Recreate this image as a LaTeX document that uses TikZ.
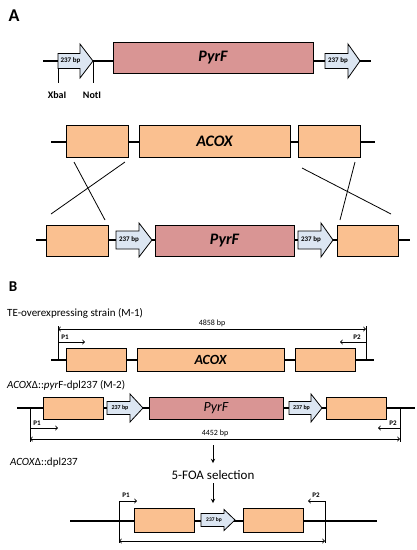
\documentclass[tikz,border=0pt]{standalone}
\usepackage{fontspec}
\setmainfont{Carlito}
\usetikzlibrary{positioning}

\definecolor{pyrred}{HTML}{D99594}
\definecolor{acoxorange}{HTML}{FAC090}
\definecolor{dplblue}{HTML}{DCE6F2}

\tikzset{
  backbone/.style={line width=1.5pt},
  genebox/.style={draw, line width=0.9pt, inner sep=0pt, outer sep=0pt},
  acoxbox/.style={genebox, fill=acoxorange},
  pyrbox/.style={genebox, fill=pyrred},
  dplshape/.style={draw, line width=0.8pt, fill=dplblue},
  dpltext/.style={font=\bfseries\fontsize{#1}{#1}\selectfont, inner sep=0pt},
  primer/.style={line width=0.9pt, -to},
  dimline/.style={line width=0.9pt, to-to},
  lbl/.style={font=\bfseries\fontsize{#1}{#1}\selectfont, inner sep=0pt},
}

% name, left x, y, body length, total length, body half, head half, font size
\newcommand{\dplarrow}[8]{%
  \draw[dplshape] (#2,#3-#6) -- (#2+#4,#3-#6) -- (#2+#4,#3-#7) -- (#2+#5,#3)
    -- (#2+#4,#3+#7) -- (#2+#4,#3+#6) -- (#2,#3+#6) -- cycle;
  \node[dpltext=#8] (#1) at (#2+#4/2+1.5,#3) {237 bp};}

\begin{document}
\begin{tikzpicture}[x=1pt, y=-1pt]
  \useasboundingbox (0,0) rectangle (416,550);

  % ---------- A ----------
  \node[lbl=18] (panelA) at (14,16) {A};

  % cassette
  \coordinate (c1l) at (43,61);
  \coordinate (c1r) at (371,61);
  \draw[backbone] (c1l) -- (c1r);
  \coordinate (xba) at (58,61);
  \coordinate (not) at (93,61);
  \draw[line width=0.9pt] (xba) -- ++(0,22) (not) -- ++(0,22);
  \dplarrow{dplA}{58}{61}{22}{35}{7.5}{17}{7}
  \dplarrow{dplB}{325}{61}{23}{35}{7.5}{17}{7}
  \node[pyrbox, minimum width=200pt, minimum height=31pt] (pyrA) at (213,58)
    {\fontsize{16}{16}\selectfont\bfseries\itshape PyrF};
  \node[lbl=10] (xbal) at (57,95) {XbaI};
  \node[lbl=10] (notl) at (92,95) {NotI};

  % ACOX locus
  \coordinate (c2l) at (51,142);
  \coordinate (c2r) at (375,142);
  \draw[backbone] (c2l) -- (c2r);
  \node[acoxbox, minimum width=62pt, minimum height=32pt] (up) at (97,141) {};
  \node[acoxbox, minimum width=151pt, minimum height=32pt] (acox) at (214.5,141)
    {\fontsize{16}{16}\selectfont\bfseries\itshape ACOX};
  \node[acoxbox, minimum width=62pt, minimum height=32pt] (dn) at (329,141) {};

  % crossover
  \draw[line width=0.8pt] (74,162) -- (105,220);
  \draw[line width=0.8pt] (125,162) -- (51,214);
  \draw[line width=0.8pt] (302,168) -- (391,214);
  \draw[line width=0.8pt] (355,162) -- (340,220);

  % integrated locus
  \coordinate (c3l) at (36,240);
  \coordinate (c3r) at (410,240);
  \draw[backbone] (c3l) -- (c3r);
  \node[acoxbox, minimum width=62pt, minimum height=31pt] (upI) at (77,240.5) {};
  \dplarrow{dplC}{116}{240}{23}{36}{9}{17}{7}
  \node[pyrbox, minimum width=139pt, minimum height=31pt] (pyrI) at (224.5,240.5)
    {\fontsize{16}{16}\selectfont\bfseries\itshape PyrF};
  \dplarrow{dplD}{298}{240}{23}{35}{9}{17}{7}
  \node[acoxbox, minimum width=61pt, minimum height=31pt] (dnI) at (367.5,240.5) {};

  % ---------- B ----------
  \node[lbl=15] (panelB) at (13,287) {B};

  % M-1
  \node[anchor=west, inner sep=0pt, font=\fontsize{11}{11}\selectfont] (m1) at (7,313)
    {TE-overexpressing strain (M-1)};
  \coordinate (m1l) at (51,360);
  \coordinate (m1r) at (374,360);
  \draw[backbone] (m1l) -- (m1r);
  \coordinate (p1a) at (58,326);
  \coordinate (p2a) at (366,326);
  \draw[line width=0.9pt] (p1a) -- (58,361) (p2a) -- (366,361);
  \draw[dimline] (58,329) -- node[above=1pt, font=\fontsize{8}{8}\selectfont, inner sep=1pt] (bp1) {4858 bp} (366,329);
  \draw[primer] (58,342) -- (85,342);
  \draw[primer] (366,342) -- (340,342);
  \node[lbl=7] (p1lA) at (65,337.5) {P1};
  \node[lbl=7] (p2lA) at (357,337.5) {P2};
  \node[acoxbox, minimum width=60pt, minimum height=23pt] (upM) at (96,359.5) {};
  \node[acoxbox, minimum width=147pt, minimum height=23pt] (acoxM) at (210.5,359.5)
    {\fontsize{14}{14}\selectfont\bfseries\itshape ACOX};
  \node[acoxbox, minimum width=60pt, minimum height=23pt] (dnM) at (325,359.5) {};

  % M-2
  \node[anchor=west, inner sep=0pt, font=\fontsize{11}{11}\selectfont] (m2) at (7,385)
    {\textit{ACOX}Δ::\textit{pyr}F-dpl237 (M-2)};
  \coordinate (m2l) at (17,408);
  \coordinate (m2r) at (415,408);
  \draw[backbone] (m2l) -- (m2r);
  \draw[line width=0.9pt] (30,408) -- (30,442) (400,408) -- (400,442);
  \node[acoxbox, minimum width=60pt, minimum height=22pt] (upN) at (73,408) {};
  \dplarrow{dplE}{107}{408}{23}{36}{6.5}{14}{6}
  \node[pyrbox, minimum width=134pt, minimum height=22pt] (pyrN) at (216,408)
    {\fontsize{14}{14}\selectfont\itshape PyrF};
  \dplarrow{dplF}{289}{408}{22}{33}{6.5}{14}{6}
  \node[acoxbox, minimum width=60pt, minimum height=22pt] (dnN) at (356,408) {};
  \draw[primer] (30,428) -- (58,428);
  \draw[primer] (400,428) -- (378,428);
  \node[lbl=7] (p1lB) at (37,423) {P1};
  \node[lbl=7] (p2lB) at (393,423) {P2};
  \draw[dimline] (30,439) -- node[above=1pt, font=\fontsize{8}{8}\selectfont, inner sep=1pt] (bp2) {4452 bp} (400,439);

  % selection
  \node[anchor=west, inner sep=0pt, font=\fontsize{11}{11}\selectfont] (m3) at (10,463)
    {\textit{ACOX}Δ::dpl237};
  \node[inner sep=0pt, font=\fontsize{13}{13}\selectfont] (foa) at (213,475) {5-FOA selection};
  \coordinate (dn1) at (213,445);
  \coordinate (dn2) at (213,463);
  \coordinate (dn3) at (213,483);
  \coordinate (dn4) at (213,503);
  \draw[line width=0.9pt, -stealth] (dn1) -- (dn2);
  \draw[line width=0.9pt, -stealth] (dn3) -- (dn4);

  % ACOX-dpl237
  \coordinate (m3l) at (70,521);
  \coordinate (m3r) at (377,521);
  \draw[backbone] (m3l) -- (m3r);
  \draw[line width=0.9pt] (119,501) -- (119,543) (325,501) -- (325,543);
  \node[acoxbox, minimum width=60pt, minimum height=24pt] (upD) at (164,520) {};
  \dplarrow{dplG}{201}{520}{23}{34}{6.5}{10.5}{5.5}
  \node[acoxbox, minimum width=60pt, minimum height=24pt] (dnD) at (273,520) {};
  \draw[primer] (119,501) -- (137,501);
  \draw[primer] (325,501) -- (308,501);
  \node[lbl=7] (p1lC) at (126,495) {P1};
  \node[lbl=7] (p2lC) at (316,495) {P2};
  \draw[dimline] (119,541) -- (325,541);
\end{tikzpicture}
\end{document}
